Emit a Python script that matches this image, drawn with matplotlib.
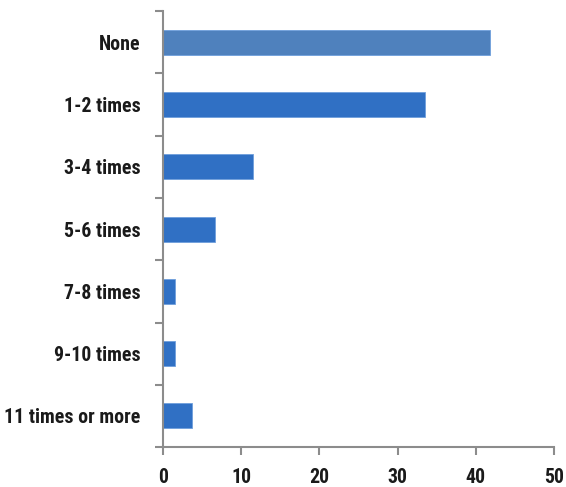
import matplotlib
matplotlib.use("Agg")
import matplotlib.pyplot as plt
from matplotlib import font_manager

categories = ["None", "1-2 times", "3-4 times", "5-6 times",
              "7-8 times", "9-10 times", "11 times or more"]
values = [41.8, 33.5, 11.5, 6.7, 1.5, 1.5, 3.7]
bar_colors = ["#4f81bd", "#3070c4", "#3070c4", "#3070c4",
              "#3070c4", "#3070c4", "#3070c4"]
x_ticks = [0, 10, 20, 30, 40, 50]

names = {f.name for f in font_manager.fontManager.ttflist}
family = "DejaVu Sans"
stretch = "condensed"
for cand in ["Liberation Sans Narrow", "Roboto Condensed", "Open Sans Condensed"]:
    if cand in names:
        family = cand
        stretch = "normal"
        break

fig = plt.figure(figsize=(5.66, 4.87), dpi=100)
ax = fig.add_axes([0.288, 0.082, 0.691, 0.895])

n = len(categories)
ypos = list(range(n))
ax.barh(ypos, values, height=0.4, color=bar_colors,
        edgecolor="#6f9fdc", linewidth=0.6, zorder=2)

ax.set_ylim(n - 0.5, -0.5)
ax.set_xlim(0, 50)

ax.set_yticks([i - 0.5 for i in range(n + 1)])
ax.set_yticklabels([])
ax.set_yticks(ypos, minor=True)
ax.set_yticklabels(categories, minor=True)
ax.tick_params(axis="y", which="minor", length=0, pad=16)
ax.tick_params(axis="y", which="major", length=6, width=1.5,
               color="#8c8c8c", direction="out")

ax.set_xticks(x_ticks)
ax.set_xticklabels([str(t) for t in x_ticks])
ax.tick_params(axis="x", length=6, width=1.5, color="#8c8c8c",
               direction="out", pad=9)

for lbl in ax.get_yticklabels(minor=True) + ax.get_xticklabels():
    lbl.set_fontfamily(family)
    lbl.set_fontstretch(stretch)
    lbl.set_fontweight("bold")
    lbl.set_fontsize(14.3)
    lbl.set_color("#1a1a1a")

for side in ["top", "right"]:
    ax.spines[side].set_visible(False)
for side in ["left", "bottom"]:
    ax.spines[side].set_color("#8c8c8c")
    ax.spines[side].set_linewidth(1.5)

fig.savefig("out.png", dpi=100)
